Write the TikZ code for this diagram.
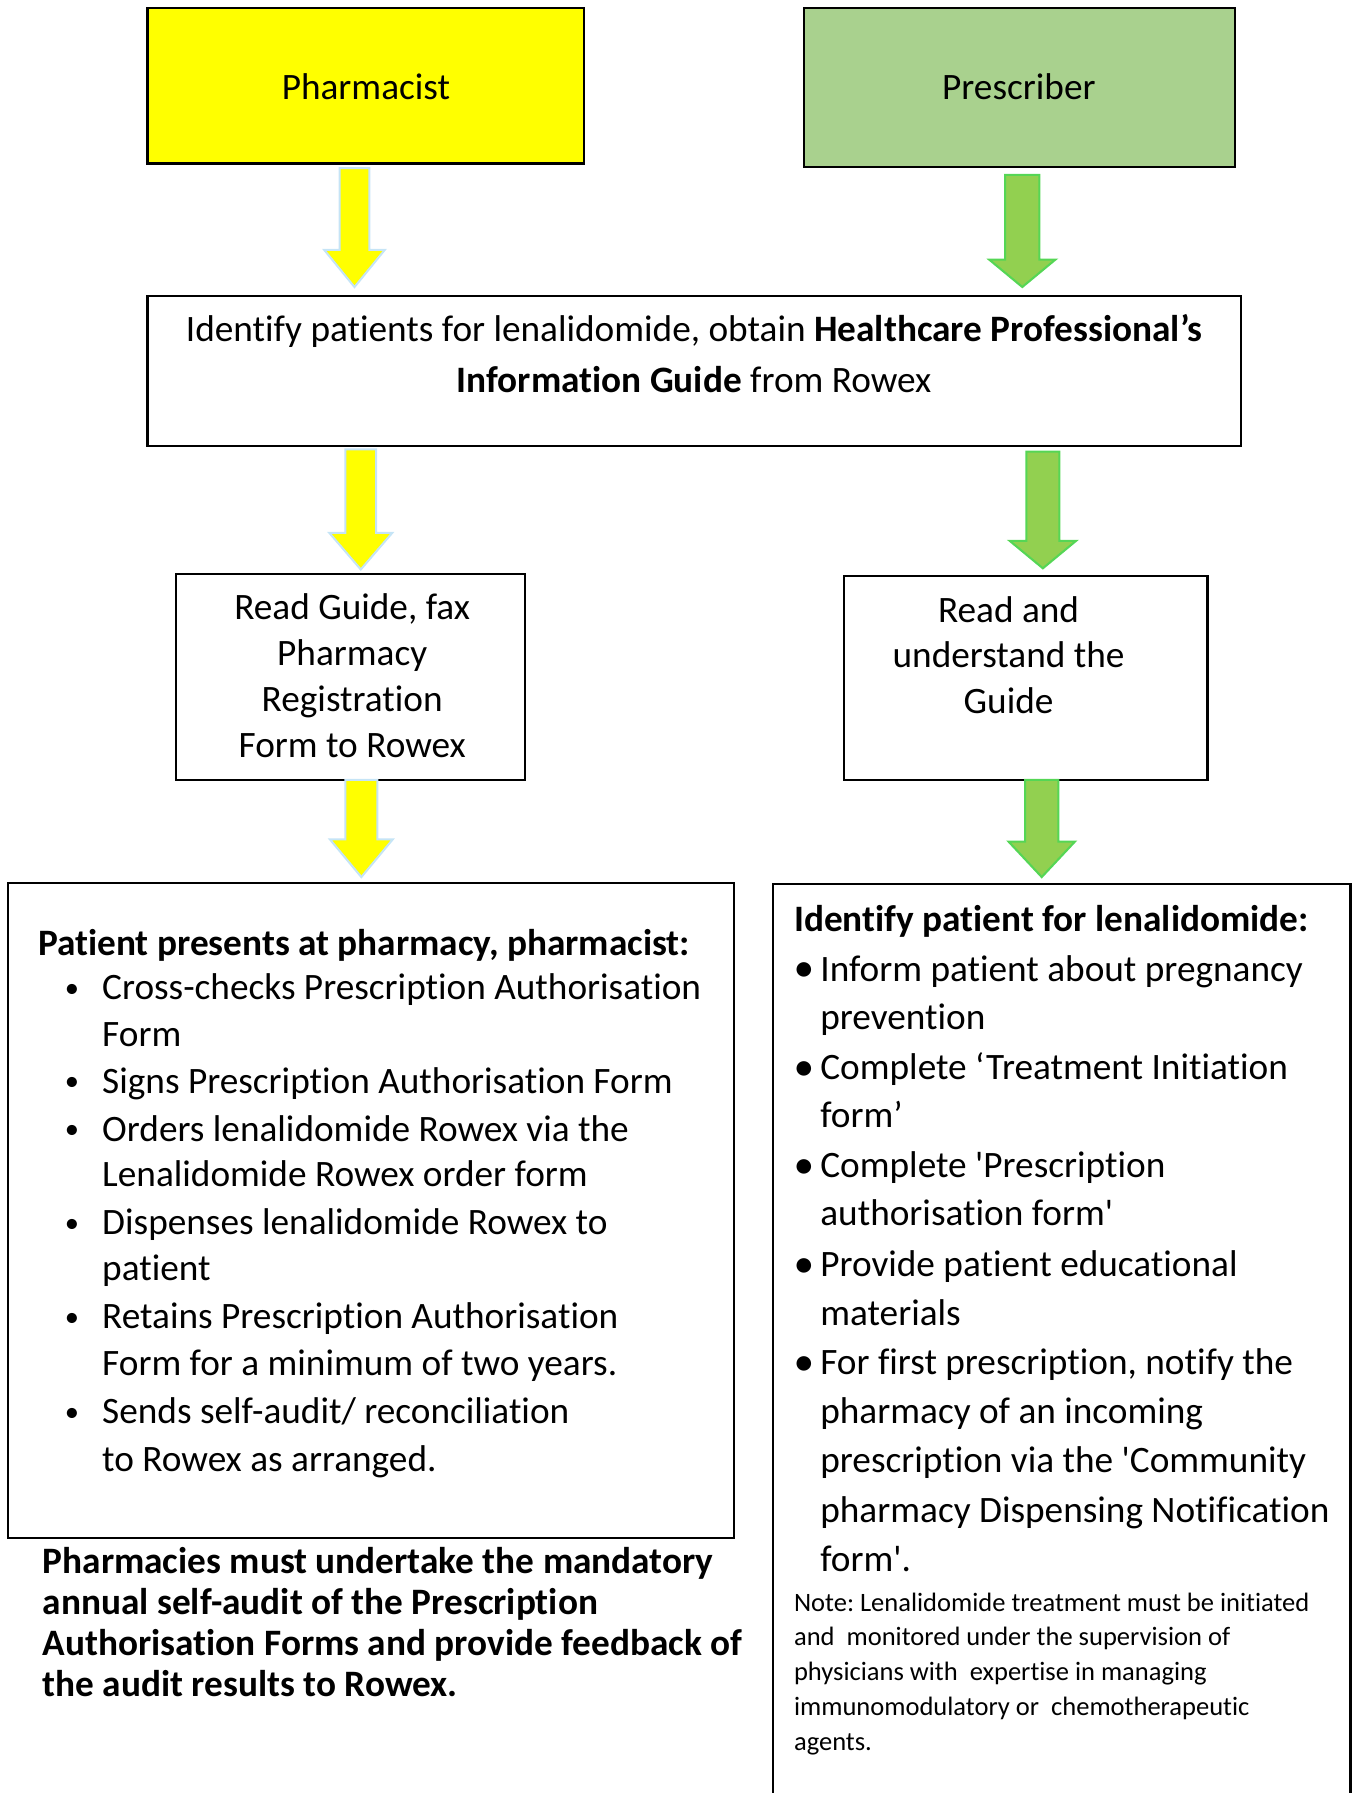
\documentclass[tikz,border=0pt]{standalone}
\usepackage{fontspec}
\setmainfont{Carlito}[Ligatures=NoCommon]
\frenchspacing
\definecolor{pyellow}{HTML}{FFFF00}
\definecolor{pgreen}{HTML}{A9D18E}
\definecolor{ablue}{HTML}{C5E4F6}
\definecolor{agreen}{HTML}{92D050}
\definecolor{agreenline}{HTML}{55D655}
\newcommand\blockarrow[7]{%
  \draw[#1] (#2-#3,#5) -- (#2+#3,#5) -- (#2+#3,#6) -- (#2+#4,#6) -- (#2,#7) -- (#2-#4,#6) -- (#2-#3,#6) -- cycle;}
\begin{document}
\begin{tikzpicture}[x=0.5pt,y=-0.5pt,
  box/.style={draw=black, line width=1pt},
  body/.style={inner sep=0pt, font=\fontsize{16.3}{20}\selectfont},
  txt/.style={body, anchor=base west},
  ctxt/.style={body, anchor=base},
  bold/.style={inner sep=0pt, anchor=base west, font=\fontsize{16.3}{20}\selectfont\bfseries},
  note/.style={inner sep=0pt, anchor=base west, font=\fontsize{11.6}{14}\selectfont},
  yarrow/.style={fill=pyellow, draw=ablue, line width=0.9pt},
  garrow/.style={fill=agreen, draw=agreenline, line width=0.9pt},
  bul/.style={inner sep=0pt, anchor=base, font=\fontsize{12.5}{20}\selectfont},
  rbul/.style={inner sep=0pt, anchor=base, font=\fontsize{15}{20}\selectfont\bfseries}
]
\useasboundingbox (0,0) rectangle (1188,1568);
% top boxes
\draw[box, fill=pyellow] (129,7) rectangle (511,143);
\node[ctxt] (pharm) at (320,87) {Pharmacist};
\draw[box, fill=pgreen] (703,7) rectangle (1080,146);
\node[ctxt] (presc) at (891,87) {Prescriber};
% arrows row 1
\blockarrow{yarrow}{310}{13}{26.5}{147}{218.5}{251}
\blockarrow{garrow}{894}{15}{29}{153}{227}{251}
% middle box
\draw[box] (129,259) rectangle (1085,390);
\node[ctxt] (mid1) at (607,299) {Identify patients for lenalidomide, obtain \textbf{Healthcare Professional’s}};
\node[ctxt] (mid2) at (607,343) {\textbf{Information Guide} from Rowex};
% arrows row 2
\blockarrow{yarrow}{315.5}{13.5}{27.5}{393}{466}{498}
\blockarrow{garrow}{912}{14.5}{29}{395}{473}{497}
% read boxes
\draw[box] (154,502) rectangle (459,682);
\foreach \yy/\t [count=\i] in {542/{Read Guide, fax},582/{Pharmacy},622/{Registration},662/{Form to Rowex}}
  \node[ctxt] (rg\i) at (308,\yy) {\t};
\draw[box] (738,504) rectangle (1056,682);
\foreach \yy/\t [count=\i] in {544/{Read and},584/{understand the},624/{Guide}}
  \node[ctxt] (ru\i) at (882,\yy) {\t};
% arrows row 3
\blockarrow{yarrow}{316}{14}{27.5}{682}{734}{767}
\blockarrow{garrow}{911}{14.5}{29}{682}{736}{767}
% left big box
\draw[box] (7,772) rectangle (642,1345);
\node[bold] (lhead) at (33,836) {Patient presents at pharmacy, pharmacist:};
\foreach \yy/\t [count=\i] in {
  874/{Cross-checks Prescription Authorisation},
  915/{Form},
  956/{Signs Prescription Authorisation Form},
  998/{Orders lenalidomide Rowex via the},
  1038/{Lenalidomide Rowex order form},
  1080/{Dispenses lenalidomide Rowex to},
  1120/{patient},
  1162/{Retains Prescription Authorisation},
  1203/{Form for a minimum of two years.},
  1245/{Sends self-audit/ reconciliation},
  1287/{to Rowex as arranged.}}
  \node[txt] (ll\i) at (89,\yy) {\t};
\foreach \yy [count=\i] in {874,956,998,1080,1162,1245}
  \node[bul] (lb\i) at (63,\yy-2) {•};
% bottom bold text
\foreach \yy/\t [count=\i] in {
  1376/{Pharmacies must undertake the mandatory},
  1412/{annual self-audit of the Prescription},
  1448/{Authorisation Forms and provide feedback of},
  1484/{the audit results to Rowex.}}
  \node[bold] (bb\i) at (37,\yy) {\t};
% right big box (open at the bottom)
\draw[box] (676,1575) -- (676,773) -- (1181,773) -- (1181,1575);
\node[bold] (rhead) at (694,815) {Identify patient for lenalidomide:};
\foreach \yy/\t [count=\i] in {
  858/{Inform patient about pregnancy},
  900/{prevention},
  944/{Complete ‘Treatment Initiation},
  986/{form’},
  1030/{Complete \textquotesingle Prescription},
  1072/{authorisation form\textquotesingle},
  1116/{Provide patient educational},
  1159/{materials},
  1202/{For first prescription, notify the},
  1245/{pharmacy of an incoming},
  1288/{prescription via the \textquotesingle Community},
  1331/{pharmacy Dispensing Notification},
  1374/{form\textquotesingle.}}
  \node[txt] (rl\i) at (717,\yy) {\t};
\foreach \yy [count=\i] in {858,944,1030,1116,1202}
  \node[rbul] (rb\i) at (703,\yy-1) {•};
\foreach \yy/\t [count=\i] in {
  1409/{Note: Lenalidomide treatment must be initiated},
  1439/{and\ \ monitored under the supervision of},
  1470/{physicians with\ \ expertise in managing},
  1500/{immunomodulatory or\ \ chemotherapeutic},
  1531/{agents.}}
  \node[note] (nt\i) at (694,\yy) {\t};
\end{tikzpicture}
\end{document}
